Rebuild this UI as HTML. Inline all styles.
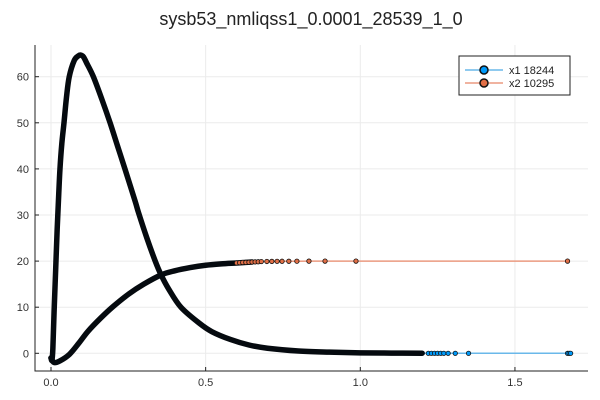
<!DOCTYPE html>
<html><head><meta charset="utf-8"><style>
body{margin:0;background:#fff;}
svg{display:block;font-family:"Liberation Sans","DejaVu Sans",sans-serif;}
</style></head><body>
<svg id="chart" width="600" height="400"></svg>
<script>
const xTicks=[0.0,0.5,1.0,1.5];
const xTickLabels=["0.0","0.5","1.0","1.5"];
const yTicks=[0,10,20,30,40,50,60];
const yTickLabels=["0","10","20","30","40","50","60"];
const x1T=[0,0.003,0.006,0.01,0.015,0.02,0.025,0.029,0.035,0.042,0.05,0.059,0.075,0.088,0.096,0.105,0.115,0.137,0.165,0.191,0.215,0.239,0.272,0.283,0.31,0.337,0.356,0.38,0.42,0.48,0.52,0.58,0.64,0.7,0.8,0.9,1.0,1.1,1.2];
const x1V=[-1,-1.5,1,9,18,27,34.5,40,45.5,50,55.5,60,63.5,64.5,64.7,64.3,63,60,55,50,45,40,33,30.5,25,20,17,14,10,6.5,4.7,3,1.8,1.1,0.5,0.25,0.1,0.05,0.02];
const x1TailT=[1.22,1.23,1.24,1.25,1.26,1.27,1.284,1.307,1.35,1.67,1.675,1.68];
const x1TailV=[0,0,0,0,0,0,0,0,0,0,0,0];
const x2T=[0,0.01,0.03,0.06,0.09,0.12,0.16,0.2,0.25,0.3,0.356,0.4,0.45,0.5,0.55,0.6,0.65];
const x2V=[-1,-2,-1.6,-0.2,2.2,4.8,7.6,10.1,12.8,15,17,17.9,18.6,19.1,19.4,19.6,19.8];
const x2TailT=[0.6,0.61,0.62,0.63,0.64,0.65,0.66,0.67,0.68,0.698,0.714,0.731,0.747,0.769,0.795,0.834,0.886,0.986,1.67];
const x2TailV=[19.6,19.65,19.7,19.72,19.75,19.8,19.83,19.86,19.9,19.92,19.94,19.95,19.96,19.97,19.98,19.99,20,20,20];
const L=35,R=588,T=45,B=371;
const sx=v=>51+v*309.3;
const sy=v=>353.3-v*4.61;
const NS="http://www.w3.org/2000/svg";
const svg=document.getElementById('chart');
function mk(tag,attrs,parent){const e=document.createElementNS(NS,tag);for(const k in attrs)e.setAttribute(k,attrs[k]);(parent||svg).appendChild(e);return e;}
function smooth(ts,vs){
 const p=ts.map((t,i)=>[sx(t),sy(vs[i])]);
 let d='M'+p[0][0]+','+p[0][1];
 for(let i=0;i<p.length-1;i++){
  const p0=p[i-1]||p[i],p1=p[i],p2=p[i+1],p3=p[i+2]||p2;
  const c1=[p1[0]+(p2[0]-p0[0])/6,p1[1]+(p2[1]-p0[1])/6];
  const c2=[p2[0]-(p3[0]-p1[0])/6,p2[1]-(p3[1]-p1[1])/6];
  d+=`C${c1[0]},${c1[1]} ${c2[0]},${c2[1]} ${p2[0]},${p2[1]}`;
 }
 return d;
}
const title=mk('text',{x:311,y:25,'text-anchor':'middle','font-size':18,fill:'#222'});
title.textContent='sysb53_nmliqss1_0.0001_28539_1_0';


xTicks.forEach((v,i)=>{
 const g=mk('line',{x1:sx(v),x2:sx(v),y1:T,y2:B,stroke:'#ebebeb','stroke-width':1});
 
 
 mk('line',{x1:sx(v),x2:sx(v),y1:B,y2:B-4,stroke:'#222'});
 const t=mk('text',{x:sx(v),y:B+15,'text-anchor':'middle','font-size':11,fill:'#333'});
 t.textContent=xTickLabels[i];
 
 
});
yTicks.forEach((v,i)=>{
 const g=mk('line',{x1:L,x2:R,y1:sy(v),y2:sy(v),stroke:'#ebebeb','stroke-width':1});
 
 
 mk('line',{x1:L,x2:L+4,y1:sy(v),y2:sy(v),stroke:'#222'});
 const t=mk('text',{x:L-6,y:sy(v)+4,'text-anchor':'end','font-size':11,fill:'#333'});
 t.textContent=yTickLabels[i];
 
 
});
const ax=mk('path',{d:`M${L},${T}V${B}H${R}`,stroke:'#222',fill:'none','stroke-width':1});


function series(T1,V1,TT,TV,lineCol,fill,name){
 const allT=T1.concat(TT),allV=V1.concat(TV);
 const ln=mk('polyline',{points:allT.map((t,i)=>sx(t)+','+sy(allV[i])).join(' '),fill:'none',stroke:lineCol,'stroke-width':1.5});
 
 
 const thick=mk('path',{d:smooth(T1,V1),fill:'none',stroke:'#050a0f','stroke-width':5.5,'stroke-linejoin':'round','stroke-linecap':'round'});
 
 
 TT.forEach((t,i)=>{
  const c=mk('circle',{cx:sx(t),cy:sy(TV[i]),r:2.2,fill:fill,stroke:'#111','stroke-width':0.8});
  
  
 });
}
series(x2T,x2V,x2TailT,x2TailV,'#eb9a80','#e26f46','x2');
series(x1T,x1V,x1TailT,x1TailV,'#6ab8ea','#009afa','x1');
const lg=mk('g',{});


mk('rect',{x:459,y:56,width:111,height:39,fill:'#fff',stroke:'#222','stroke-width':1},lg);
[['x1 18244','#6ab8ea','#009afa',70],['x2 10295','#eb9a80','#e26f46',83]].forEach(e=>{
 mk('line',{x1:465,x2:503,y1:e[3],y2:e[3],stroke:e[1],'stroke-width':1.5},lg);
 mk('circle',{cx:484,cy:e[3],r:4,fill:e[2],stroke:'#111','stroke-width':1.5},lg);
 const t=mk('text',{x:509,y:e[3]+4,'font-size':11,fill:'#222'},lg);
 t.textContent=e[0];
 
 
});
</script>
</body></html>
